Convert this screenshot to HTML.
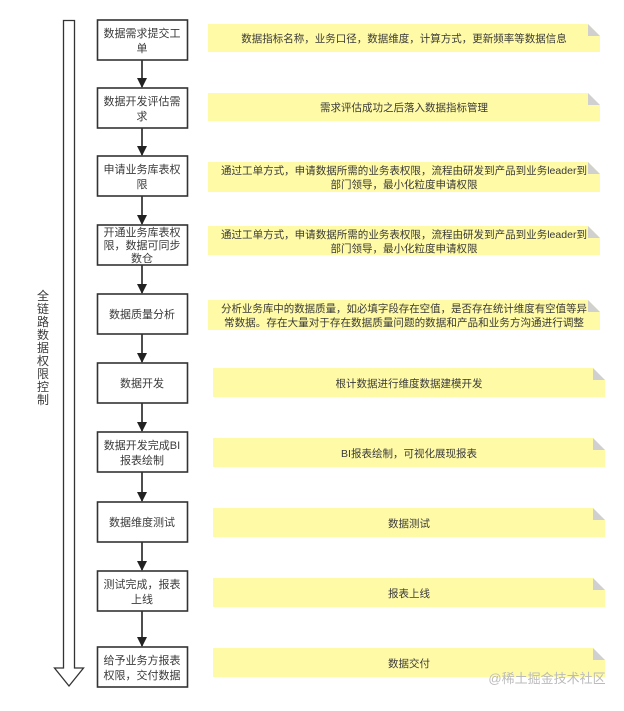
<!DOCTYPE html>
<html><head><meta charset="utf-8"><style>
html,body{margin:0;padding:0;background:#fff;}
svg text{font-family:"Liberation Sans","Noto Sans CJK SC",sans-serif;fill:#3a3a3a;}
</style></head><body>
<svg width="624" height="706" viewBox="0 0 624 706" xmlns="http://www.w3.org/2000/svg">
<defs><marker id="a" markerWidth="10" markerHeight="10" refX="9" refY="5" orient="auto" markerUnits="userSpaceOnUse"><path d="M0,0 L10,5 L0,10 Z" fill="#222"/></marker></defs>
<path d="M63.5,20.5 H74.5 V668 H83.5 L69,686 L54.5,668 H63.5 Z" fill="#fff" stroke="#333" stroke-width="1.3"/>
<g font-size="12" text-anchor="middle">
<text x="43" y="300">全</text><text x="43" y="313">链</text><text x="43" y="326">路</text><text x="43" y="339">数</text><text x="43" y="352">据</text><text x="43" y="365">权</text><text x="43" y="378">限</text><text x="43" y="391">控</text><text x="43" y="404">制</text>
</g>
<g stroke="#222" stroke-width="1.6" marker-end="url(#a)">
<line x1="142" y1="60" x2="142" y2="87"/>
<line x1="142" y1="128" x2="142" y2="155"/>
<line x1="142" y1="196" x2="142" y2="224"/>
<line x1="142" y1="265" x2="142" y2="293"/>
<line x1="142" y1="334" x2="142" y2="362"/>
<line x1="142" y1="403" x2="142" y2="431"/>
<line x1="142" y1="472" x2="142" y2="501"/>
<line x1="142" y1="542" x2="142" y2="570"/>
<line x1="142" y1="611" x2="142" y2="646"/>
</g>
<g fill="#fff" stroke="#333" stroke-width="1.6">
<rect x="97.5" y="20" width="90" height="40"/>
<rect x="97.5" y="88" width="90" height="40"/>
<rect x="97.5" y="156" width="90" height="40"/>
<rect x="97.5" y="225" width="90" height="40"/>
<rect x="97.5" y="294" width="90" height="40"/>
<rect x="97.5" y="363" width="90" height="40"/>
<rect x="97.5" y="432" width="90" height="40"/>
<rect x="97.5" y="502" width="90" height="40"/>
<rect x="97.5" y="571" width="90" height="40"/>
<rect x="97.5" y="647" width="90" height="40"/>
</g>
<g font-size="11" text-anchor="middle">
<text x="142" y="37">数据需求提交工</text><text x="142" y="52">单</text>
<text x="142" y="105">数据开发评估需</text><text x="142" y="120">求</text>
<text x="142" y="173">申请业务库表权</text><text x="142" y="188">限</text>
<text x="142" y="236">开通业务库表权</text><text x="142" y="249">限，数据可同步</text><text x="142" y="262">数仓</text>
<text x="142" y="318">数据质量分析</text>
<text x="142" y="387">数据开发</text>
<text x="142" y="449">数据开发完成BI</text><text x="142" y="464">报表绘制</text>
<text x="142" y="526">数据维度测试</text>
<text x="142" y="588">测试完成，报表</text><text x="142" y="603">上线</text>
<text x="142" y="664">给予业务方报表</text><text x="142" y="679">权限，交付数据</text>
</g>
<g fill="#fffaa6">
<path d="M208,24 H588 L600,36 V52 H208 Z"/>
<path d="M208,93 H588 L600,105 V121 H208 Z"/>
<path d="M208,162 H588 L600,174 V192 H208 Z"/>
<path d="M208,226 H588 L600,238 V255 H208 Z"/>
<path d="M208,300 H588 L600,312 V330 H208 Z"/>
<path d="M213,368 H593 L605,380 V397 H213 Z"/>
<path d="M213,438 H593 L605,450 V467 H213 Z"/>
<path d="M213,508 H593 L605,520 V537 H213 Z"/>
<path d="M213,578 H593 L605,590 V607 H213 Z"/>
<path d="M213,648 H593 L605,660 V677 H213 Z"/>
</g>
<g fill="#d0d0d0">
<path d="M588,24 L600,36 H588 Z"/><path d="M588,93 L600,105 H588 Z"/><path d="M588,162 L600,174 H588 Z"/><path d="M588,226 L600,238 H588 Z"/><path d="M588,300 L600,312 H588 Z"/>
<path d="M593,368 L605,380 H593 Z"/><path d="M593,438 L605,450 H593 Z"/><path d="M593,508 L605,520 H593 Z"/><path d="M593,578 L605,590 H593 Z"/><path d="M593,648 L605,660 H593 Z"/>
</g>
<g font-size="10.5" text-anchor="middle">
<text x="404" y="42">数据指标名称，业务口径，数据维度，计算方式，更新频率等数据信息</text>
<text x="404" y="111">需求评估成功之后落入数据指标管理</text>
<text x="404" y="174" textLength="366" lengthAdjust="spacingAndGlyphs">通过工单方式，申请数据所需的业务表权限，流程由研发到产品到业务leader到</text><text x="404" y="188">部门领导，最小化粒度申请权限</text>
<text x="404" y="238" textLength="366" lengthAdjust="spacingAndGlyphs">通过工单方式，申请数据所需的业务表权限，流程由研发到产品到业务leader到</text><text x="404" y="252">部门领导，最小化粒度申请权限</text>
<text x="404" y="312" textLength="366" lengthAdjust="spacingAndGlyphs">分析业务库中的数据质量，如必填字段存在空值，是否存在统计维度有空值等异</text><text x="404" y="326" textLength="360" lengthAdjust="spacingAndGlyphs">常数据。存在大量对于存在数据质量问题的数据和产品和业务方沟通进行调整</text>
<text x="409" y="387">根计数据进行维度数据建模开发</text>
<text x="409" y="457">BI报表绘制，可视化展现报表</text>
<text x="409" y="527">数据测试</text>
<text x="409" y="597">报表上线</text>
<text x="409" y="667">数据交付</text>
</g>
<text x="547" y="683" font-size="13" text-anchor="middle" style="fill:#bbb">@稀土掘金技术社区</text>
</svg>
</body></html>
